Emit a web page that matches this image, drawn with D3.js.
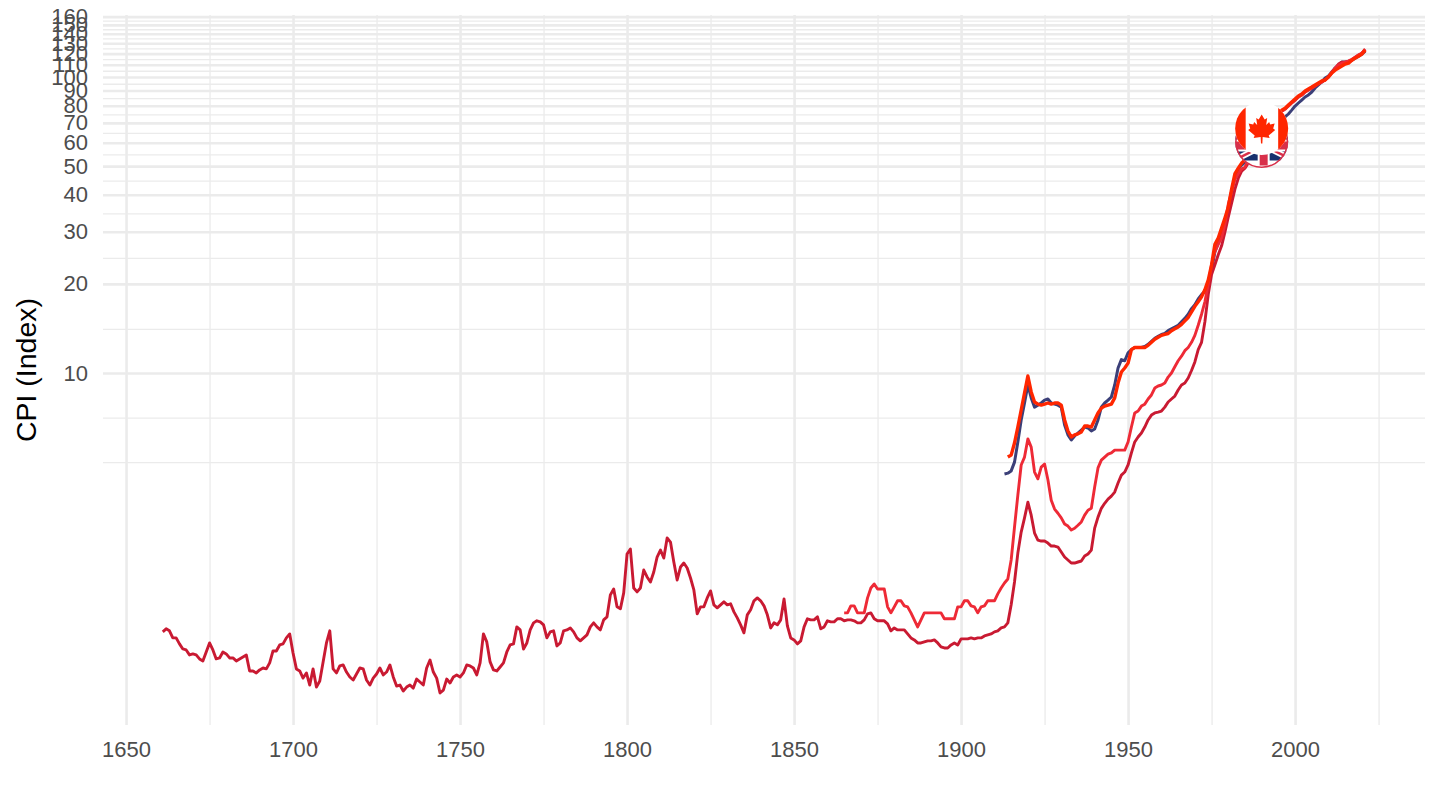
<!DOCTYPE html>
<html lang="en" dir="ltr">
  <head>
    <meta charset="utf-8" />
    <title>CPI (Index)</title>
    <style>
      html, body { margin: 0; padding: 0; background: #fff; }
      text { font-family: "Liberation Sans", Arial, sans-serif; }
    </style>
  </head>
  <body>
    <!-- Load d3.js -->
    <script src="https://d3js.org/d3.v7.min.js"></script>

    <!-- Create a div where the graph will take place -->
    <div id="my_dataviz"></div>

    <script>
      // tick values
      const xMajor = [1650, 1700, 1750, 1800, 1850, 1900, 1950, 2000];
      const xMinor = [1675, 1725, 1775, 1825, 1875, 1925, 1975, 2025];
      const yMajor = [10, 20, 30, 40, 50, 60, 70, 80, 90, 100, 110, 120, 130, 140, 150, 160];
      const yMinor = [5, 7.07, 14.1, 24.5, 34.6, 44.7, 54.8, 64.8, 74.8, 84.9, 94.9, 105, 115, 125, 135, 145, 155];

      // longest series, yearly from 1661
      const startLong = 1661;
      const cpiLong = [
        1.335, 1.367, 1.346, 1.274, 1.274, 1.216, 1.169, 1.160, 1.116, 1.125,
        1.116, 1.082, 1.065, 1.142, 1.225, 1.160, 1.082, 1.090, 1.142, 1.125,
        1.090, 1.090, 1.065, 1.082, 1.099, 1.116, 0.985, 0.985, 0.970, 0.993,
        1.008, 1.001, 1.049, 1.151, 1.151, 1.206, 1.216, 1.274, 1.314, 1.133,
        1.001, 0.985, 0.932, 0.970, 0.883, 1.001, 0.869, 0.911, 1.057, 1.225,
        1.346, 1.001, 0.970, 1.024, 1.032, 0.977, 0.940, 0.918, 0.962, 1.008,
        1.001, 0.918, 0.883, 0.932, 0.962, 1.008, 0.955, 0.977, 1.032, 0.940,
        0.876, 0.883, 0.843, 0.869, 0.883, 0.862, 0.925, 0.904, 0.883, 1.008,
        1.073, 0.977, 0.932, 0.830, 0.849, 0.925, 0.897, 0.940, 0.955, 0.940,
        0.970, 1.032, 1.024, 1.008, 0.955, 1.049, 1.314, 1.235, 1.057, 0.993,
        0.985, 1.016, 1.049, 1.142, 1.206, 1.216, 1.388, 1.356, 1.169, 1.225,
        1.356, 1.432, 1.455, 1.443, 1.410, 1.274, 1.335, 1.346, 1.197, 1.225,
        1.346, 1.356, 1.377, 1.335, 1.274, 1.245, 1.274, 1.304, 1.388, 1.432,
        1.388, 1.356, 1.466, 1.501, 1.780, 1.864, 1.622, 1.597, 1.808, 2.446,
        2.543, 1.878, 1.822, 1.878, 2.160, 2.046, 1.968, 2.127, 2.390, 2.523,
        2.371, 2.770, 2.685, 2.299, 1.999, 2.211, 2.281, 2.194, 2.030, 1.850,
        1.536, 1.622, 1.622, 1.739, 1.836, 1.648, 1.610, 1.648, 1.687, 1.648,
        1.661, 1.560, 1.489, 1.410, 1.325, 1.524, 1.585, 1.700, 1.739, 1.700,
        1.635, 1.524, 1.377, 1.432, 1.410, 1.466, 1.725, 1.399, 1.274, 1.254,
        1.216, 1.245, 1.388, 1.478, 1.466, 1.466, 1.501, 1.367, 1.388, 1.455,
        1.443, 1.443, 1.478, 1.478, 1.455, 1.466, 1.466, 1.455, 1.432, 1.432,
        1.466, 1.536, 1.548, 1.478, 1.455, 1.455, 1.455, 1.421, 1.346, 1.377,
        1.356, 1.356, 1.356, 1.314, 1.274, 1.254, 1.225, 1.225, 1.235, 1.245,
        1.245, 1.254, 1.225, 1.188, 1.178, 1.178, 1.206, 1.225, 1.206, 1.264,
        1.264, 1.264, 1.274, 1.264, 1.274, 1.274, 1.294, 1.304, 1.314, 1.335,
        1.346, 1.377, 1.388, 1.432, 1.648, 1.968, 2.465, 2.902, 3.24, 3.66,
        3.31, 2.879, 2.727, 2.706, 2.706, 2.664, 2.603, 2.603, 2.583, 2.484,
        2.390, 2.335, 2.281, 2.281, 2.299, 2.317, 2.408, 2.446, 2.523, 2.993,
        3.26, 3.49, 3.63, 3.75, 3.84, 3.96, 4.25, 4.52, 4.63, 4.89,
        5.37, 5.85, 6.08, 6.27, 6.57, 6.94, 7.21, 7.33, 7.38, 7.44,
        7.67, 7.98, 8.17, 8.36, 8.76, 9.11, 9.25, 9.62, 10.2, 10.9,
        12.0, 12.7, 14.9, 18.4, 21.5, 23.2, 25.1, 26.9, 29.9, 33.6,
        37.5, 41.8, 45.5, 48.1, 49.2, 51.2, 54.5, 56.7, 59, 61.3,
        63.7, 65.3, 66.3, 67.5, 75.4, 76.6, 77.9, 79.8, 81.7, 83.6,
        85.6, 86.9, 89, 90.4, 91.8, 93.3, 94.8, 96.2, 97.7, 100,
        103.2, 107.2, 110.6, 112.3, 112.3, 113.2, 114, 116.7, 118.6, 120.4, 124.1
      ];

      // second red series, yearly from 1865
      const startMid = 1865;
      const cpiMid = [
        1.548, 1.548, 1.635, 1.635, 1.548, 1.548,
        1.548, 1.739, 1.878, 1.938, 1.864, 1.864, 1.864, 1.622, 1.548, 1.622,
        1.700, 1.700, 1.635, 1.622, 1.548, 1.466, 1.388, 1.466, 1.548, 1.548,
        1.548, 1.548, 1.548, 1.548, 1.478, 1.478, 1.478, 1.478, 1.622, 1.622,
        1.700, 1.700, 1.635, 1.622, 1.548, 1.622, 1.635, 1.700, 1.700, 1.700,
        1.794, 1.878, 1.953, 2.014, 2.335, 3.017, 3.87, 4.89, 5.20, 5.99,
        5.62, 4.63, 4.39, 4.81, 4.93, 4.36, 3.72, 3.47, 3.36, 3.24,
        3.09, 3.04, 2.95, 2.99, 3.06, 3.14, 3.31, 3.44, 3.49, 4.12,
        4.78, 5.08, 5.20, 5.32, 5.37, 5.49, 5.49, 5.49, 5.49, 5.85,
        6.57, 7.33, 7.44, 7.73, 7.85, 8.17, 8.43, 8.90, 9.04, 9.11,
        9.25, 9.69, 10.0, 10.5, 11.0, 11.4, 11.9, 12.2, 12.7, 13.4,
        14.5, 15.8, 17.4, 19.9, 23.2, 25.7, 27.2, 28.6, 31.7, 37.2,
        41.1, 45.1, 47.2, 48.9, 49.6, 52.4, 54.9, 57.6, 59.9, 62.2,
        64.2, 66.3, 67.8, 69.4, 72, 76.6, 77.9, 79.8, 81.7, 83.6,
        85.6, 86.9, 89, 90.4, 91.8, 93.3, 94.8, 96.2, 97.7, 100,
        103.9, 107.2, 109.7, 111.4, 112.3, 113.2, 114.9, 116.7, 118.6, 120.4, 124.1
      ];

      // navy series, yearly from 1913
      const startNavy = 1913;
      const cpiNavy = [
        4.56, 4.59, 4.67, 5.00, 5.85, 6.94, 7.92,
        9.11, 8.24, 7.67, 7.79, 7.92, 8.10, 8.17, 7.92, 7.85, 7.79,
        7.67, 6.67, 6.18, 5.94, 6.13, 6.27, 6.42, 6.57, 6.52, 6.37,
        6.47, 6.94, 7.67, 7.92, 8.10, 8.30, 9.11, 10.4, 11.1, 11.0,
        11.7, 12.0, 12.2, 12.2, 12.2, 12.3, 12.5, 12.8, 13.1, 13.3,
        13.5, 13.6, 13.9, 14.1, 14.3, 14.5, 14.9, 15.3, 15.8, 16.5,
        17.0, 17.8, 18.4, 18.9, 20.3, 22.3, 25.7, 27.5, 29.9, 32.4,
        35.7, 41.1, 45.9, 48.9, 50.4, 51.6, 53.2, 55, 56.7, 58.5,
        60.4, 62.2, 64.2, 66.3, 67.8, 69.4, 70.9, 73.3, 75, 77.3,
        79.8, 81.7, 83.6, 85.6, 87, 89, 91.8, 94, 96.2, 99.2,
        100.8, 103.9, 107.2, 109.7, 112.3, 112.3, 112.3, 114, 115.8, 117.6, 119.5, 122.3
      ];

      // bright red series, yearly from 1914
      const startBright = 1914;
      const cpiBright = [
        5.20, 5.28, 5.80, 6.57, 7.50, 8.56,
        9.77, 8.63, 7.98, 7.85, 7.79, 7.85, 7.92, 7.85, 7.92, 7.92,
        7.79, 6.94, 6.37, 6.08, 6.18, 6.23, 6.32, 6.62, 6.62, 6.57,
        6.94, 7.33, 7.61, 7.73, 7.79, 7.85, 8.24, 9.25, 10.08, 10.4,
        10.8, 12.0, 12.2, 12.2, 12.2, 12.2, 12.4, 12.7, 13.0, 13.2,
        13.4, 13.5, 13.6, 13.9, 14.1, 14.3, 14.6, 15.0, 15.4, 16.1,
        16.8, 17.4, 18.1, 19.1, 20.6, 23.2, 27.2, 28.6, 30.9, 33.4,
        36.3, 41.8, 47.2, 49.2, 51.2, 52.4, 55.8, 58.5, 61.3, 64.8,
        68.2, 70.3, 71.4, 72.5, 73.6, 75.4, 77.3, 78.5, 80.4, 82.3,
        84.3, 86.3, 87.6, 89.7, 91.1, 92.5, 94, 95.5, 97, 97.7,
        100, 103.2, 105.5, 107.2, 108.9, 110.6, 111.4, 114, 115.8, 117.6, 119.5, 123.2
      ];

      // where the flags sit
      const flagYear = 1990;
      const flagValue = 67;

      // set the dimensions of the graph
      const width = 1440;
      const height = 810;
      const panel = { left: 103, right: 1425, top: 15, bottom: 725 };

      const svg = d3
        .select("#my_dataviz")
        .append("svg")
        .attr("width", width)
        .attr("height", height)
        .style("display", "block");

      const x = d3
        .scaleLinear()
        .domain([1643.1, 2038.9])
        .range([panel.left, panel.right]);
      const y = d3
        .scaleLog()
        .domain([0.647, 162])
        .range([panel.bottom, panel.top]);

      // grid lines come from axes with long ticks
      const drawGrid = (axis, transform, strokeWidth) => {
        const g = svg.append("g").attr("transform", transform).call(axis);
        g.select(".domain").remove();
        g.selectAll("text").remove();
        g.selectAll("line").attr("stroke", "#ebebeb").attr("stroke-width", strokeWidth);
      };

      const plotW = panel.right - panel.left;
      const plotH = panel.bottom - panel.top;
      drawGrid(d3.axisLeft(y).tickValues(yMinor).tickSize(-plotW), `translate(${panel.left},0)`, 1.3);
      drawGrid(d3.axisBottom(x).tickValues(xMinor).tickSize(-plotH), `translate(0,${panel.bottom})`, 1.3);
      drawGrid(d3.axisLeft(y).tickValues(yMajor).tickSize(-plotW), `translate(${panel.left},0)`, 2.6);
      drawGrid(d3.axisBottom(x).tickValues(xMajor).tickSize(-plotH), `translate(0,${panel.bottom})`, 2.6);

      // tick labels
      const xAxis = svg
        .append("g")
        .attr("transform", `translate(0,${panel.bottom})`)
        .call(d3.axisBottom(x).tickValues(xMajor).tickSize(0).tickPadding(16).tickFormat(d3.format("d")));
      const yAxis = svg
        .append("g")
        .attr("transform", `translate(${panel.left},0)`)
        .call(d3.axisLeft(y).tickValues(yMajor).tickSize(0).tickPadding(15).tickFormat(d3.format("d")));
      [xAxis, yAxis].forEach(a => {
        a.select(".domain").remove();
        a.selectAll("text").attr("font-size", 22).attr("font-family", null).attr("fill", "#4d4d4d");
      });

      svg
        .append("text")
        .attr("transform", `translate(36,${(panel.top + panel.bottom) / 2}) rotate(-90)`)
        .attr("text-anchor", "middle")
        .attr("font-size", 28.5)
        .attr("fill", "#000")
        .text("CPI (Index)");

      // draw the lines
      const line = d3
        .line()
        .x(d => x(d.year))
        .y(d => y(d.value));

      const toPoints = (start, values) => values.map((value, i) => ({ year: start + i, value }));

      const drawLine = (start, values, color, strokeWidth) => {
        svg
          .append("path")
          .datum(toPoints(start, values))
          .attr("fill", "none")
          .attr("stroke", color)
          .attr("stroke-width", strokeWidth)
          .attr("stroke-linejoin", "round")
          .attr("d", line);
      };

      drawLine(startNavy, cpiNavy, "#3b3f78", 3);
      drawLine(startLong, cpiLong, "#c91a32", 2.9);
      drawLine(startMid, cpiMid, "#ee2a36", 2.9);
      drawLine(startBright, cpiBright, "#ff2600", 3.4);

      // flags: union jack behind, canada in front, both cut to a circle
      const flag = svg
        .append("g")
        .attr("transform", `translate(${x(flagYear)},${y(flagValue)})`);
      const defs = svg.append("defs");
      defs.append("clipPath").attr("id", "clip-ca").append("circle").attr("r", 26.5);
      defs.append("clipPath").attr("id", "clip-uk").append("circle").attr("cy", 13).attr("r", 26.5);

      const ukClip = flag.append("g").attr("clip-path", "url(#clip-uk)");
      ukClip.append("circle").attr("cy", 13).attr("r", 26.5).attr("fill", "#fff");
      const uk = ukClip.append("g").attr("transform", "translate(2,17)");
      uk.append("rect").attr("x", -40).attr("y", -15).attr("width", 80).attr("height", 30).attr("fill", "#17306e");
      uk.append("path").attr("d", "M-40,-20L40,20M-40,20L40,-20").attr("stroke", "#fff").attr("stroke-width", 6);
      uk.append("path").attr("d", "M-40,-20L40,20M-40,20L40,-20").attr("stroke", "#d8304a").attr("stroke-width", 2.5);
      uk.append("path").attr("d", "M0,-20V20M-40,0H40").attr("stroke", "#fff").attr("stroke-width", 12);
      uk.append("path").attr("d", "M0,-20V20M-40,0H40").attr("stroke", "#d8304a").attr("stroke-width", 8);
      ukClip.append("circle").attr("cy", 13).attr("r", 26.5).attr("fill", "none").attr("stroke", "#d8304a").attr("stroke-width", 3);

      const ca = flag.append("g").attr("clip-path", "url(#clip-ca)");
      ca.append("rect").attr("x", -27).attr("y", -27).attr("width", 54).attr("height", 54).attr("fill", "#fff");
      ca.append("rect").attr("x", -27).attr("y", -27).attr("width", 11).attr("height", 54).attr("fill", "#ff2600");
      ca.append("rect").attr("x", 16.5).attr("y", -27).attr("width", 11).attr("height", 54).attr("fill", "#ff2600");
      ca.append("path")
        .attr("d", "M0,-14L3,-9L5.5,-10.5L4.5,-3.5L7.5,-6.5L8.5,-4L13,-5L11.5,0L13.5,1.5L7,7L8,9.5L1,8.5L0.7,15L-0.7,15L-1,8.5L-8,9.5L-7,7L-13.5,1.5L-11.5,0L-13,-5L-8.5,-4L-7.5,-6.5L-4.5,-3.5L-5.5,-10.5L-3,-9Z")
        .attr("fill", "#ff2600");
    </script>
  </body>
</html>
